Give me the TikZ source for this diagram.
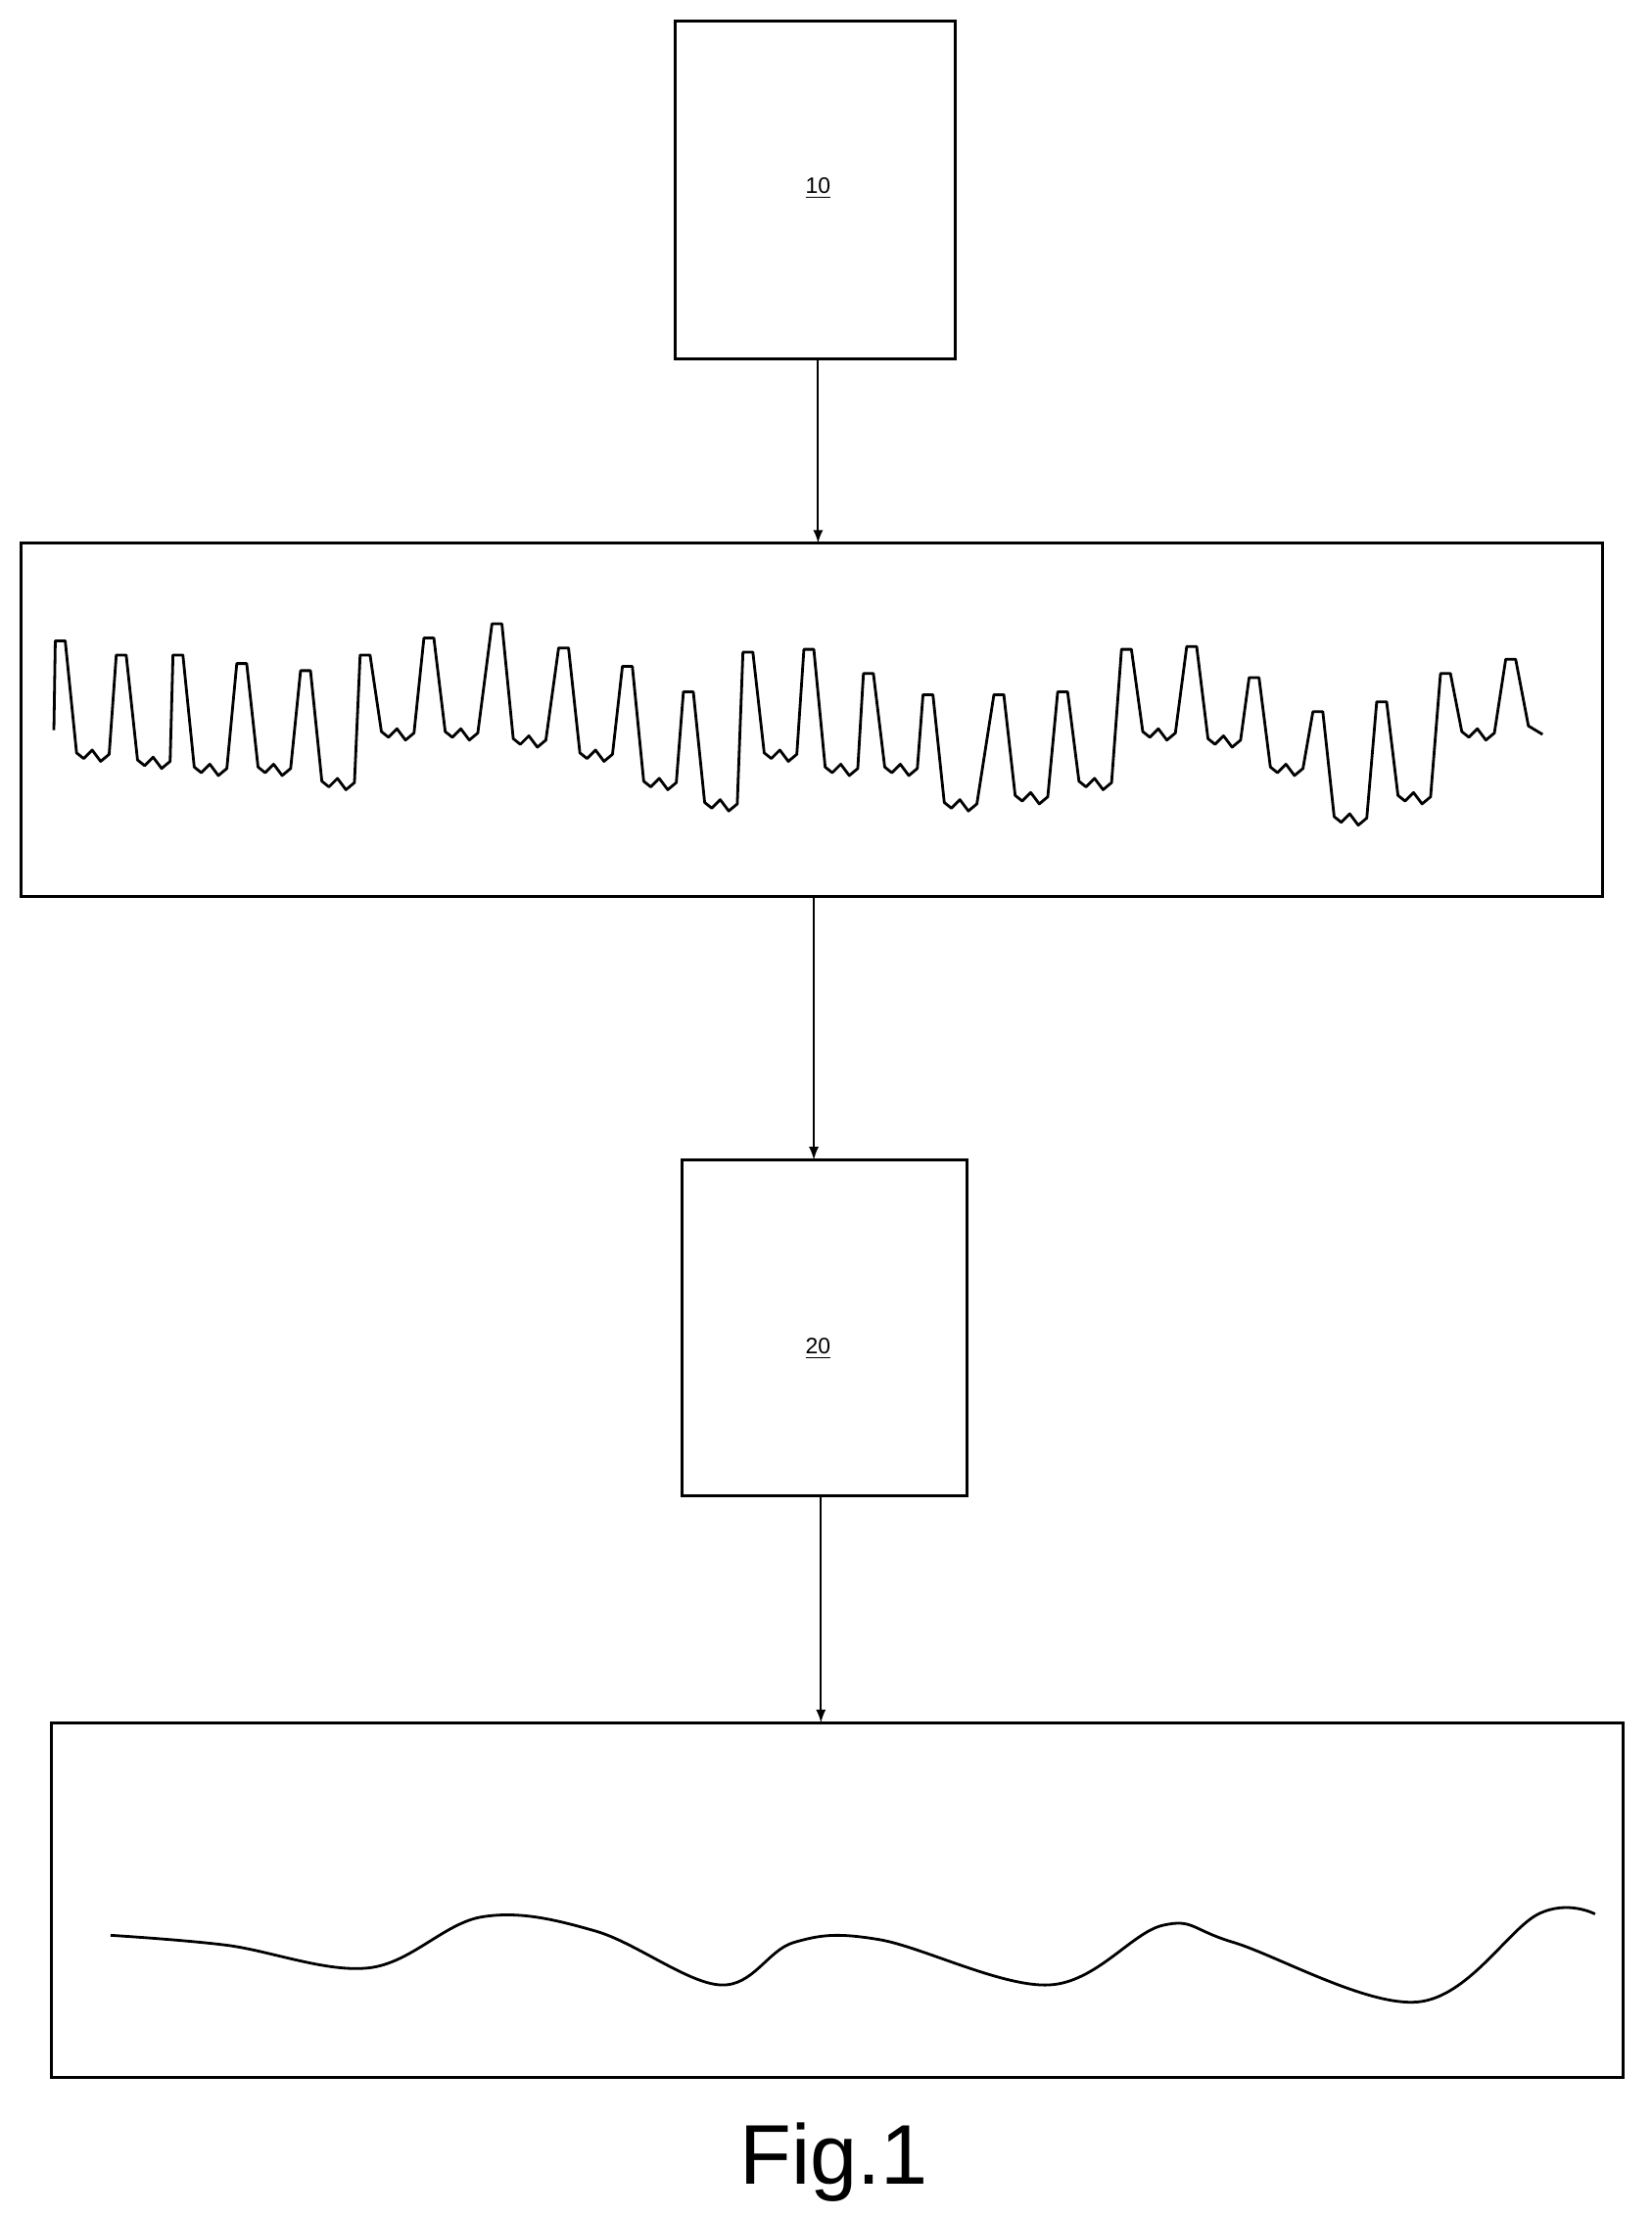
\documentclass[tikz,border=0pt]{standalone}
\usepackage{fontspec}
\newfontfamily\figfont{Liberation Sans}
\begin{document}
\begin{tikzpicture}[x=0.02cm,y=-0.02cm,
  box/.style={draw,line width=1.2pt},
  arr/.style={-latex,line width=0.8pt},
  sig/.style={line width=1.1pt,line join=round}]
\useasboundingbox (0,0) rectangle (1165,1563);
\path[box] (476,15) rectangle (674,253);
\node[font=\figfont\small] at (577,133) {\underline{10}};
\coordinate (b10s) at (577,253);
\coordinate (s1n) at (577,383);
\path[box] (15,383) rectangle (1130,632);
\coordinate (s1s) at (574,632);
\coordinate (b20n) at (574,818);
\path[box] (481,818) rectangle (682,1055);
\node[font=\figfont\small] at (577,951) {\underline{20}};
\coordinate (b20s) at (579,1055);
\coordinate (s2n) at (579,1215);
\path[box] (36,1215) rectangle (1145,1465);
\draw[arr] (b10s) -- (s1n);
\draw[arr] (s1s) -- (b20n);
\draw[arr] (b20s) -- (s2n);
\draw[sig] (38,515) \foreach \x/\y/\b in {45/452/535,88/462/540,128/462/545,173/468/545,218/473/555,260/462/520,305/450/520,353/440/525,400/457/535,445/470/555,488/488/570,530/460/535,573/458/545,615/475/545,657/490/570,707/490/565,752/488/555,797/458/520,843/456/525,887/478/545,932/502/580,977/495/565,1022/475/520}{
  -- ({\x-6},\y) -- ({\x+1},\y) -- ({\x+9},{\b-4}) -- ({\x+14},\b) -- ({\x+20},{\b-6}) -- ({\x+26},{\b+2}) -- ({\x+32},{\b-3})} -- (1062,465) -- (1069,465) -- (1078,512) -- (1088,518);
\draw[line width=1.1pt] plot[smooth,tension=0.6] coordinates {(78,1365) (160,1372) (260,1388) (340,1352) (420,1362) (508,1400) (560,1370) (620,1368) (740,1400) (820,1358) (870,1370) (1000,1412) (1085,1350) (1125,1350)};
\node[font=\figfont\fontsize{34}{40}\selectfont] at (588,1525) {Fig.1};
\end{tikzpicture}
\end{document}
